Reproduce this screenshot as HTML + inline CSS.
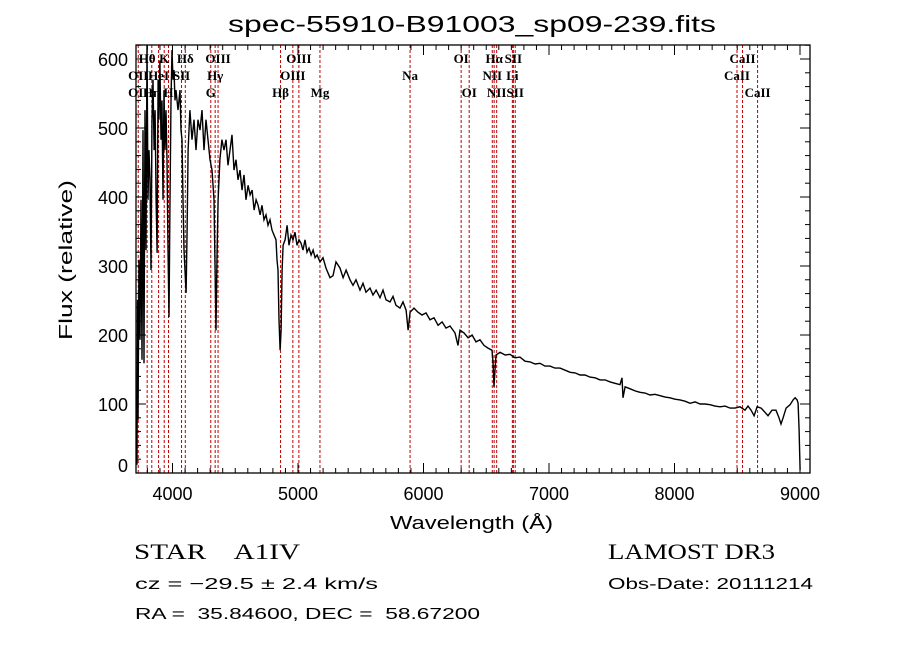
<!DOCTYPE html>
<html><head><meta charset="utf-8"><style>
body{margin:0;background:#fff;width:900px;height:649px;overflow:hidden}
svg{display:block}
.t{font-family:"Liberation Sans",sans-serif;fill:#000}
.s{font-family:"Liberation Serif",serif;fill:#000}
</style></head><body>
<svg id="chart" width="900" height="649" viewBox="0 0 900 649" xmlns="http://www.w3.org/2000/svg">
<text class="t" x="228" y="32" font-size="23" textLength="488" lengthAdjust="spacingAndGlyphs">spec-55910-B91003_sp09-239.fits</text>
<g id="lines"></g>
<g id="ticks"></g>
<g id="labels"></g>
<path id="spec" fill="none" stroke="#000" stroke-width="1.4"/>
<rect x="136" y="45" width="674" height="428" fill="none" stroke="#000" stroke-width="1.3"/>
<text class="t" x="390" y="529" font-size="18" textLength="163" lengthAdjust="spacingAndGlyphs">Wavelength (Å)</text>
<text class="t" transform="translate(72,340) rotate(-90)" font-size="18" textLength="160" lengthAdjust="spacingAndGlyphs">Flux (relative)</text>
<text class="s" x="134" y="559" font-size="22" xml:space="preserve" textLength="166" lengthAdjust="spacingAndGlyphs">STAR    A1IV</text>
<text class="s" x="608" y="559" font-size="22" textLength="167" lengthAdjust="spacingAndGlyphs">LAMOST DR3</text>
<text class="t" x="135" y="589" font-size="16" textLength="243" lengthAdjust="spacingAndGlyphs">cz = −29.5 ± 2.4 km/s</text>
<text class="t" x="608" y="589" font-size="16" textLength="205" lengthAdjust="spacingAndGlyphs">Obs-Date: 20111214</text>
<text class="t" x="135" y="619" font-size="16" xml:space="preserve" textLength="345" lengthAdjust="spacingAndGlyphs">RA =  35.84600, DEC =  58.67200</text>
</svg>
<script>
const wavelengths=[3717,3721,3725,3733,3741,3749,3757,3765,3773,3781,3789,3797,3805,3813,3821,3829,3837,3845,3853,3861,3869,3877,3885,3892,3900,3908,3916,3924,3932,3940,3948,3956,3964,3972,3980,3988,3996,4004,4012,4020,4028,4044,4060,4068,4076,4084,4092,4108,4116,4124,4139,4155,4171,4187,4203,4219,4235,4251,4267,4283,4299,4315,4331,4347,4355,4363,4378,4394,4410,4426,4442,4458,4474,4490,4506,4522,4538,4554,4570,4586,4602,4618,4634,4650,4666,4682,4698,4713,4729,4745,4761,4777,4793,4809,4825,4833,4841,4849,4857,4865,4873,4881,4897,4913,4928,4944,4960,4976,4992,5008,5024,5040,5056,5072,5088,5104,5120,5136,5152,5175,5199,5223,5255,5279,5303,5335,5359,5383,5414,5438,5462,5494,5518,5542,5574,5598,5622,5653,5677,5701,5733,5757,5781,5813,5837,5861,5877,5893,5924,5956,5988,6020,6052,6084,6116,6148,6179,6211,6251,6275,6291,6323,6355,6387,6418,6450,6482,6514,6546,6554,6562,6570,6578,6610,6650,6689,6729,6769,6809,6849,6889,6928,6968,7008,7048,7088,7128,7168,7208,7247,7287,7327,7367,7407,7447,7487,7526,7566,7582,7590,7606,7646,7686,7725,7765,7805,7845,7885,7925,7964,8004,8044,8084,8124,8164,8203,8243,8283,8323,8363,8403,8443,8482,8522,8562,8586,8610,8634,8658,8690,8721,8745,8777,8809,8833,8849,8865,8889,8921,8945,8961,8977,8985,8993,9001];
const fluxes=[12,251,77,309,193,396,164,497,159,526,323,620,396,468,425,294,512,570,468,526,396,319,570,512,598,483,540,396,555,468,526,454,323,226,396,540,613,570,584,540,555,526,555,497,483,396,323,261,352,468,526,483,512,468,512,497,526,468,512,483,454,439,396,207,323,396,454,483,468,483,446,468,490,439,454,425,439,410,432,396,417,403,410,381,396,388,374,388,367,374,359,367,352,345,338,309,294,222,178,207,294,330,338,359,330,345,338,349,330,338,333,323,338,320,326,316,323,312,316,306,312,297,283,286,306,297,283,294,280,272,280,265,275,262,268,258,265,254,265,251,248,256,243,239,248,236,207,233,239,233,229,232,222,225,214,219,210,213,203,185,207,203,196,200,190,193,185,181,178,161,125,149,171,175,171,172,167,168,162,161,158,159,155,155,152,152,149,146,145,142,142,139,138,135,135,132,130,128,138,109,125,122,119,117,116,113,114,112,110,109,107,106,104,101,103,100,100,99,97,96,97,94,94,96,91,97,91,83,96,94,88,83,91,91,80,71,80,94,99,106,109,106,101,62,4];
const lineWaves=[3727,3798,3835,3889,3934,3968,4072,4102,4305,4340,4363,4861,4959,5007,5175,5893,6300,6364,6548,6563,6583,6708,6716,6731,8498,8542,8662];
const labelText=["Hθ","K","Hδ","OIII","OIII","OI","Hα","SII","CaII","OII","HeI","SII","Hγ","OIII","Na","NII","Li","CaII","OII","Hη","H","G","Hβ","Mg","OI","NII","SII","CaII"];
const labelWave=[3798,3934,4102,4363,5007,6300,6563,6716,8542,3727,3889,4072,4340,4959,5893,6548,6708,8498,3727,3835,3968,4305,4861,5175,6364,6583,6731,8662];
const labelRow=[0,0,0,0,0,0,0,0,0,1,1,1,1,1,1,1,1,1,2,2,2,2,2,2,2,2,2,2];
const xTicks=[4000,5000,6000,7000,8000,9000];
const yTicks=[0,100,200,300,400,500,600];

const X0=136,X1=810,Y0=45,Y1=473;
const xs=w=>172.5+(w-4000)*0.1255;
const ys=f=>473-f*0.69;
const NS="http://www.w3.org/2000/svg";
function mk(tag,parent,attrs){const e=document.createElementNS(NS,tag);for(const k in attrs)e.setAttribute(k,attrs[k]);parent.appendChild(e);return e;}

const lg=document.getElementById('lines');
lineWaves.forEach(w=>{
  const l=mk('line',lg,{x1:xs(w),x2:xs(w),y1:Y0,y2:Y1,stroke:'#c00000','stroke-width':1,'stroke-dasharray':'3,2'});
  
  
});
const lab=document.getElementById('labels');
labelText.forEach((t,i)=>{
  const e=mk('text',lab,{x:xs(labelWave[i]),y:63+labelRow[i]*17,'font-size':13,'font-weight':'bold','text-anchor':'middle','class':'s'});
  e.textContent=t;
  
  
});
const tg=document.getElementById('ticks');
for(let w=3800;w<=9000;w+=100){
  const maj=w%1000===0, len=maj?10:5, x=xs(w);
  if(x<X0||x>X1)continue;
  mk('line',tg,{x1:x,x2:x,y1:Y1,y2:Y1-len,stroke:'#000','stroke-width':1});
  mk('line',tg,{x1:x,x2:x,y1:Y0,y2:Y0+len,stroke:'#000','stroke-width':1});
}
xTicks.forEach(w=>{
  const e=mk('text',tg,{x:xs(w),y:500,'font-size':18,'text-anchor':'middle','class':'t'});
  e.textContent=w;
  
  
});
for(let f=0;f<=620;f+=20){
  const maj=f%100===0,len=maj?10:5,y=ys(f);
  mk('line',tg,{x1:X0,x2:X0+len,y1:y,y2:y,stroke:'#000','stroke-width':1});
  mk('line',tg,{x1:X1,x2:X1-len,y1:y,y2:y,stroke:'#000','stroke-width':1});
}
yTicks.forEach(f=>{
  const e=mk('text',tg,{x:128,y:Math.min(ys(f)+7,472),'font-size':18,'text-anchor':'end','class':'t'});
  e.textContent=f;
  
  
});
let d='';
wavelengths.forEach((w,i)=>{d+=(i?'L':'M')+xs(w).toFixed(1)+','+Math.max(Y0,ys(fluxes[i])).toFixed(1);});
document.getElementById('spec').setAttribute('d',d);
</script>
</body></html>
